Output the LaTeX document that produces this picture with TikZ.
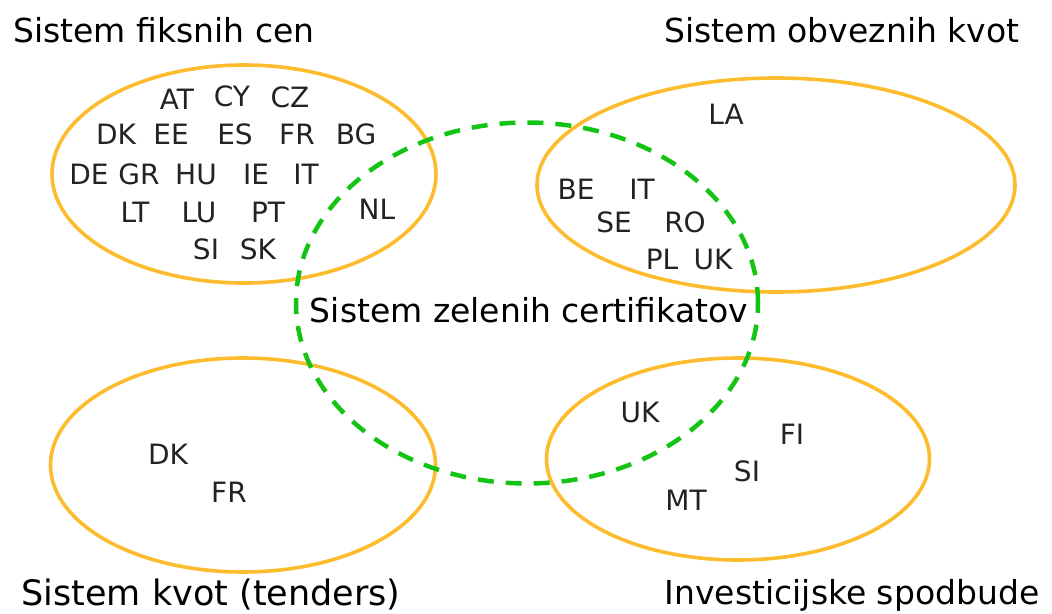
\documentclass[tikz,border=0pt]{standalone}
\usepackage{fontspec}
\setmainfont{DejaVu Sans}
\usepackage{xcolor}
\usepackage{tikz}
\usetikzlibrary{shapes.geometric, positioning}

\definecolor{setorange}{RGB}{253,188,45}
\definecolor{certgreen}{RGB}{20,196,20}
\definecolor{codegray}{RGB}{35,35,35}

\begin{document}
\begin{tikzpicture}[
      x=1pt, y=-1pt,
      set/.style={
          draw=setorange,
          ellipse,
          inner sep=0pt,
          line width=3.6pt
      },
      greenset/.style={
          draw=certgreen,
          ellipse,
          inner sep=0pt,
          line width=4.5pt,
          dash pattern=on 16pt off 12pt
      },
      title/.style={font=\fontsize{33}{38}\selectfont, text=black, inner sep=0pt},
      code/.style={font=\fontsize{28}{32}\selectfont, text=codegray, inner sep=0pt}
  ]

  \useasboundingbox (0,0) rectangle (1052,613);

  % ══════════════════════════════
  % MNOŽICE (elipse)
  % ══════════════════════════════
  \node[set, minimum width=384pt, minimum height=218pt] (fixed) at (244,174) {};
  \node[set, minimum width=478pt, minimum height=214pt] (quota) at (776,185) {};
  \node[set, minimum width=385pt, minimum height=214pt] (tender) at (243,465) {};
  \node[set, minimum width=383pt, minimum height=202pt] (invest) at (738,459) {};

  \node[greenset, minimum width=462pt, minimum height=361pt] (green) at (527,303) {};

  % ══════════════════════════════
  % NASLOVI
  % ══════════════════════════════
  \node[title] (fixedtitle) at (164,30) {Sistem fiksnih cen};
  \node[title] (quotatitle) at (842,30) {Sistem obveznih kvot};
  \node[title] (greentitle) at (529,310) {Sistem zelenih certifikatov};
  \node[title, font=\fontsize{35}{40}\selectfont] (tendertitle) at (211,595) {Sistem kvot (tenders)};
  \node[title] (investtitle) at (852,595) {Investicijske spodbude};

  % ══════════════════════════════
  % DRŽAVE — fiksne cene
  % ══════════════════════════════
  \node[code] (at) at (177,99) {AT};
  \node[code] (cy) at (232,96) {CY};
  \node[code] (cz) at (290,97) {CZ};

  \node[code] (dk) at (116,134) {DK};
  \node[code] (ee) at (171,134) {EE};
  \node[code] (es) at (235,134) {ES};
  \node[code] (fr) at (297,134) {FR};
  \node[code] (bg) at (356,134) {BG};

  \node[code] (de) at (89,174) {DE};
  \node[code] (gr) at (139,174) {GR};
  \node[code] (hu) at (196,174) {HU};
  \node[code] (ie) at (256,174) {IE};
  \node[code] (it) at (306,174) {IT};

  \node[code] (lt) at (135,212) {LT};
  \node[code] (lu) at (199,212) {LU};
  \node[code] (pt) at (268,212) {PT};
  \node[code] (nl) at (377,209) {NL};

  \node[code] (si) at (206,249) {SI};
  \node[code] (sk) at (258,249) {SK};

  % ══════════════════════════════
  % DRŽAVE — obvezne kvote
  % ══════════════════════════════
  \node[code] (la) at (726,114) {LA};
  \node[code] (be) at (576,189) {BE};
  \node[code] (itq) at (642,189) {IT};
  \node[code] (se) at (614,222) {SE};
  \node[code] (ro) at (685,222) {RO};
  \node[code] (pl) at (662,259) {PL};
  \node[code] (ukq) at (713,259) {UK};

  % ══════════════════════════════
  % DRŽAVE — tenderji, spodbude
  % ══════════════════════════════
  \node[code] (dkt) at (168,454) {DK};
  \node[code] (frt) at (229,492) {FR};

  \node[code] (uki) at (640,412) {UK};
  \node[code] (fi) at (792,434) {FI};
  \node[code] (sii) at (747,471) {SI};
  \node[code] (mt) at (686,500) {MT};

  \end{tikzpicture}
\end{document}
